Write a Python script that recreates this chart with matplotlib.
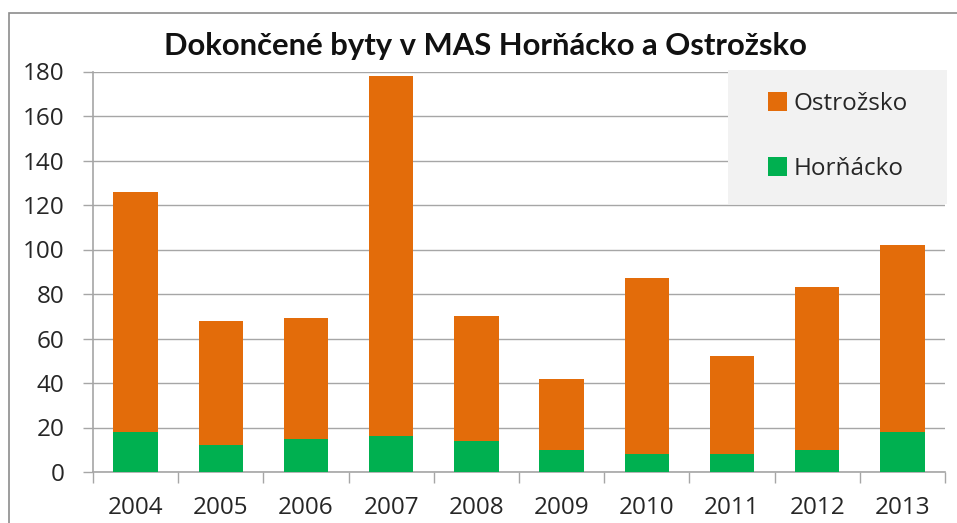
import matplotlib
matplotlib.use("Agg")
import matplotlib.pyplot as plt
import numpy as np
from matplotlib.patches import Rectangle

years = ["2004", "2005", "2006", "2007", "2008", "2009", "2010", "2011", "2012", "2013"]
hornacko = [18, 12, 15, 16, 14, 10, 8, 8, 10, 18]
ostrozsko = [108, 56, 54, 162, 56, 32, 79, 44, 73, 84]

title = "Dokončené byty v MAS Horňácko a Ostrožsko"
c_orange = "#E36C0A"
c_green = "#00B050"
grid_c = "#a6a6a6"
txt_c = "#262626"

plt.rcParams['font.family'] = ['Open Sans', 'DejaVu Sans']

W, H = 957, 523
fig = plt.figure(figsize=(W / 100, H / 100), dpi=100)
fig.patch.set_facecolor("white")

# outer chart border
fig.add_artist(Rectangle((9 / W, -0.05), 1.2, (H - 13) / H + 0.05, transform=fig.transFigure,
                         fill=False, edgecolor="#8c8c8c", linewidth=1.2))

ax_l, ax_r, ax_t, ax_b = 93, 945, 71.5, 472
ax = fig.add_axes([ax_l / W, (H - ax_b) / H, (ax_r - ax_l) / W, (ax_b - ax_t) / H])
x = np.arange(len(years))
bw = 0.52
ax.bar(x, hornacko, width=bw, color=c_green, label="Horňácko", zorder=3)
ax.bar(x, ostrozsko, width=bw, bottom=hornacko, color=c_orange, label="Ostrožsko", zorder=3)

ax.set_xlim(-0.5, len(years) - 0.5)
ax.set_ylim(0, 180)
ax.set_yticks(np.arange(0, 181, 20))
ax.yaxis.grid(True, color=grid_c, linewidth=1.0, zorder=0)
ax.set_axisbelow(True)

ax.set_xticks(x)
ax.set_xticklabels(years)
ax.set_xticks(np.arange(-0.5, len(years), 1.0), minor=True)
ax.tick_params(axis='x', which='major', length=0, labelsize=17.5, pad=17, colors=txt_c)
ax.tick_params(axis='x', which='minor', length=8, width=1, color=grid_c)
ax.tick_params(axis='y', length=7, width=1, color=grid_c, labelsize=17.5, pad=13.5, labelcolor=txt_c)

for s in ["top", "right"]:
    ax.spines[s].set_visible(False)
for s in ["left", "bottom"]:
    ax.spines[s].set_color(grid_c)
    ax.spines[s].set_linewidth(1.2)

fig.text(485 / W, 1 - 46 / H, title, ha="center", va="center", fontsize=22.3,
         fontweight="bold", color="#111111", family=['Lato', 'DejaVu Sans'])

# legend background box
def ax_x(px):
    return (px - ax_l) / (ax_r - ax_l)

def ax_y(py):
    return (ax_b - py) / (ax_b - ax_t)

bx0, bx1, by0, by1 = 728, 947, 70, 204
ax.add_patch(Rectangle((ax_x(bx0), ax_y(by1)), ax_x(bx1) - ax_x(bx0), ax_y(by0) - ax_y(by1),
                       transform=ax.transAxes, facecolor="#f2f2f2", edgecolor="none",
                       zorder=4, clip_on=False))

handles, labels = ax.get_legend_handles_labels()
leg = ax.legend(handles[::-1], labels[::-1], loc="center",
                bbox_to_anchor=(ax_x((bx0 + bx1) / 2), ax_y(136.5)), frameon=False,
                fontsize=17.5, handlelength=0.8, handleheight=0.8,
                handletextpad=0.25, labelspacing=1.7, borderpad=0.0)
leg.set_zorder(5)
for t in leg.get_texts():
    t.set_color(txt_c)

fig.savefig("out.png", dpi=100)
